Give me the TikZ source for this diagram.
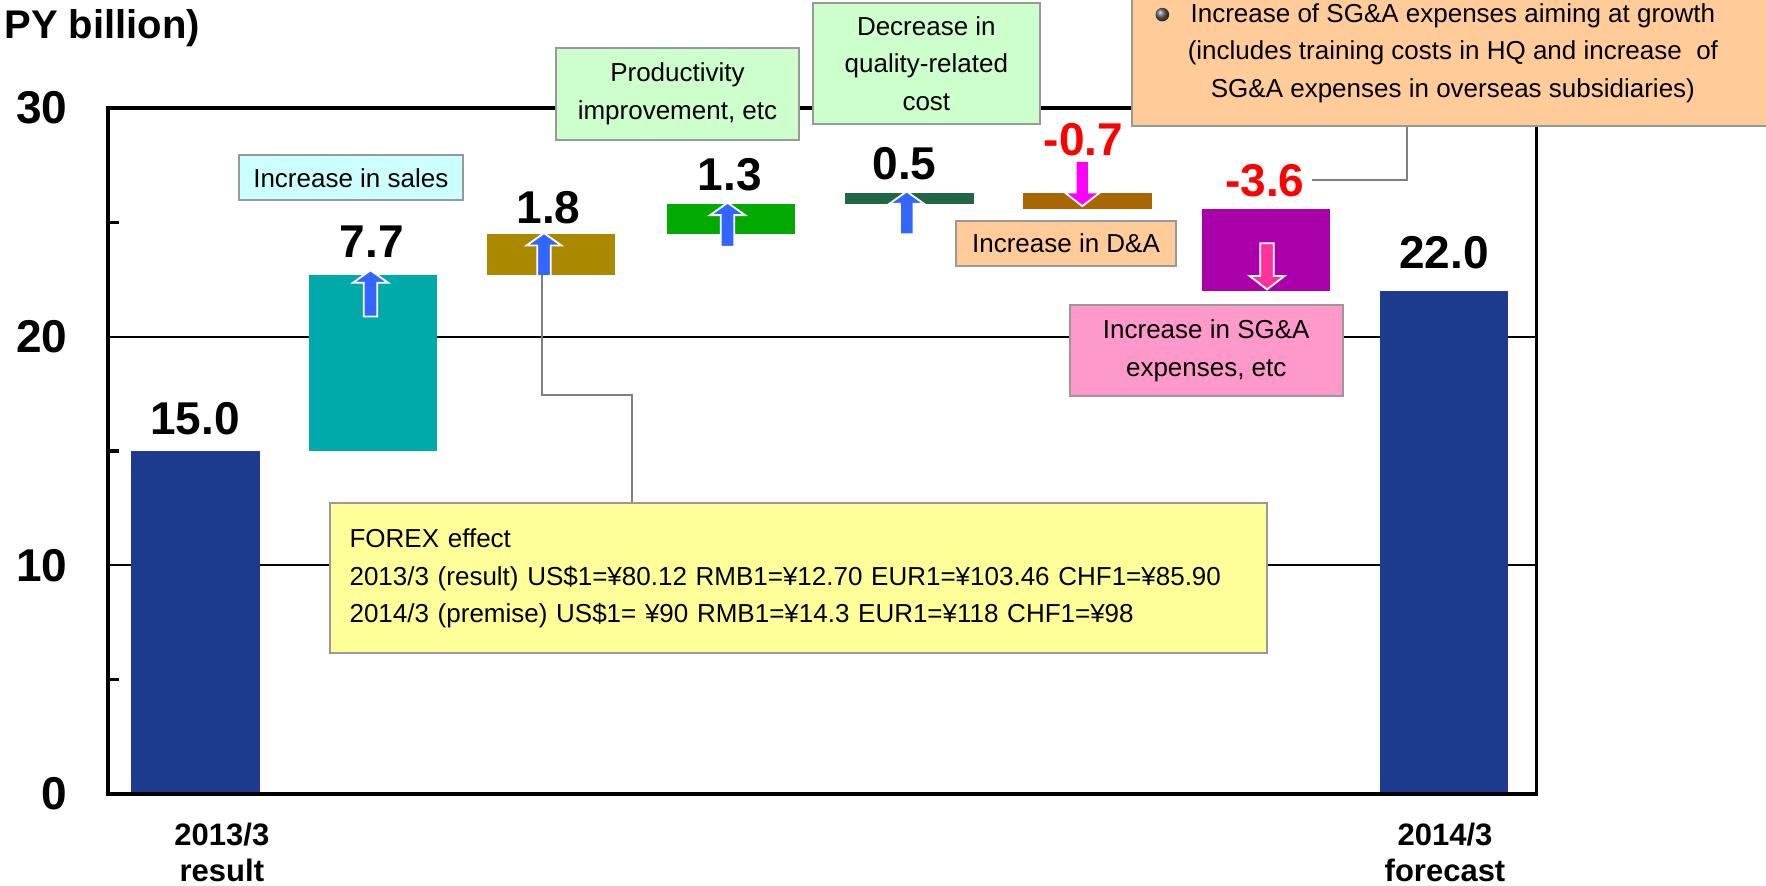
\documentclass[tikz,border=0pt]{standalone}
\usepackage{fontspec}
\setmainfont{Liberation Sans}
\definecolor{barnavy}{HTML}{1C3A8E}
\definecolor{barteal}{HTML}{00AAAA}
\definecolor{barolive}{HTML}{AA8800}
\definecolor{bargreen}{HTML}{00AA00}
\definecolor{barpine}{HTML}{216645}
\definecolor{barbrown}{HTML}{AA6600}
\definecolor{barpurple}{HTML}{AA00AA}
\definecolor{arrowblue}{HTML}{3366FF}
\definecolor{arrowmagenta}{HTML}{FF00FF}
\definecolor{arrowpink}{HTML}{FF3399}
\definecolor{valuered}{HTML}{FF0000}
\definecolor{calloutgray}{HTML}{999999}
\definecolor{linkgray}{HTML}{808080}
\definecolor{fillcyan}{HTML}{CCFFFF}
\definecolor{fillmint}{HTML}{CCFFCC}
\definecolor{fillpeach}{HTML}{FFCC99}
\definecolor{fillpink}{HTML}{FF99CC}
\definecolor{fillyellow}{HTML}{FFFF99}
\newlength\pxu
\setlength\pxu{0.5632pt}
\tikzset{
    plotframe/.style={
        draw=black,
        line width=1.65pt
    },
    gridline/.style={
        draw=black,
        line width=0.9pt
    },
    bar/.style={
        draw=none,
        inner sep=0pt,
        outer sep=0pt,
        minimum width=114\pxu
    },
    blockarrow/.style={
        draw=white,
        line width=0.9pt,
        line join=miter
    },
    valuelabel/.style={
        font=\bfseries\fontsize{23}{27}\selectfont
    },
    axislabel/.style={
        inner sep=0pt,
        font=\bfseries\fontsize{23}{27}\selectfont
    },
    catlabel/.style={
        align=center,
        inner sep=0pt,
        font=\bfseries\fontsize{15.5}{18}\selectfont
    },
    unitlabel/.style={
        inner sep=0pt,
        font=\bfseries\fontsize{20}{22}\selectfont
    },
    callout/.style={
        draw=calloutgray,
        line width=1pt,
        inner sep=0pt,
        align=center,
        font=\fontsize{13}{18.8}\selectfont
    },
    linkline/.style={
        draw=linkgray,
        line width=0.9pt
    }
}

\begin{document}
\begin{tikzpicture}[x=0.5632pt,y=-0.5632pt]
        \useasboundingbox (0,0) rectangle (1568,786);

        \foreach \v in {10,20}
            \draw[gridline] (96,{705-20.3*\v}) -- (1364,{705-20.3*\v});

        \node[bar,fill=barnavy,minimum height=304.5\pxu] (barstart) at (173.5,552.75) {};
        \node[bar,fill=barteal,minimum height=156.3\pxu] (barsales) at (331,322.35) {};
        \node[bar,fill=barolive,minimum height=36.5\pxu] (barforex) at (489,225.9) {};
        \node[bar,fill=bargreen,minimum height=26.4\pxu] (barprod) at (649,194.5) {};
        \node[bar,fill=barpine,minimum height=10.2\pxu] (barquality) at (807.5,176.2) {};
        \node[bar,fill=barbrown,minimum height=14.2\pxu] (bardepr) at (965.5,178.2) {};
        \node[bar,fill=barpurple,minimum height=73.1\pxu] (barsga) at (1124,221.85) {};
        \node[bar,fill=barnavy,minimum height=446.6\pxu] (barfinal) at (1282,481.7) {};

        \foreach \ax/\atail/\abase/\atip/\acol in {
            329/281/251/240/arrowblue, 483/245/218/207/arrowblue,
            646/219/191/180/arrowblue, 805/208/181/170/arrowblue,
            961/143/171/183/arrowmagenta, 1125/216/245/257/arrowpink}
            \filldraw[blockarrow,fill=\acol] (\ax-6,\atail) -- (\ax-6,\abase)
                -- (\ax-15.5,\abase) -- (\ax,\atip) -- (\ax+15.5,\abase)
                -- (\ax+6,\abase) -- (\ax+6,\atail) -- cycle;

        \draw[plotframe] (96,96) rectangle (1364,705);
        \foreach \v in {5,15,25}
            \draw[plotframe] (96,{705-20.3*\v}) -- ++(10,0);
        \foreach \v in {0,10,20,30}
            \node[axislabel,anchor=east] (ylab\v) at (60,{705-20.3*\v}) {\v};

        \node[unitlabel,anchor=east] (unit) at (178,25) {PY billion)};

        \node[callout,fill=fillcyan,minimum width=199\pxu,minimum height=40\pxu] (sales)
            at (311.5,158) {Increase in sales};
        \node[callout,fill=fillmint,minimum width=215\pxu,minimum height=81\pxu] (productivity)
            at (601.5,83.5) {Productivity\\improvement, etc};
        \node[callout,fill=fillmint,minimum width=201\pxu,minimum height=107\pxu] (quality)
            at (822.5,56.5) {Decrease in\\quality-related\\cost};
        \node[callout,fill=fillpeach,minimum width=195\pxu,minimum height=40\pxu] (depreciation)
            at (946.5,216) {Increase in D\&A};
        \node[callout,fill=fillpink,minimum width=242\pxu,minimum height=81\pxu] (sgaexp)
            at (1071,311.5) {Increase in SG\&A\\expenses, etc};
        \node[callout,fill=fillpeach,minimum width=570\pxu,minimum height=129\pxu] (growth)
            at (1290,47)
            {Increase of SG\&A expenses aiming at growth\\
             (includes training costs in HQ and increase\ \ of\\
             SG\&A expenses in overseas subsidiaries)};
        \shade[ball color=gray!75!black] (1032,13) circle[radius=3.4pt];
        \node[callout,fill=fillyellow,minimum width=832\pxu,minimum height=133\pxu,
              text width=449pt,align=left,inner xsep=9.5pt] (forex) at (709,513.5)
            {FOREX effect\\
             2013/3 (result) US\$1=¥80.12 RMB1=¥12.70 EUR1=¥103.46 CHF1=¥85.90\\
             2014/3 (premise) US\$1= ¥90 RMB1=¥14.3 EUR1=¥118 CHF1=¥98};

        \node[valuelabel] (vstart) at (173,372) {15.0};
        \node[valuelabel] (vsales) at (330,215) {7.7};
        \node[valuelabel] (vforex) at (487,184) {1.8};
        \node[valuelabel] (vprod) at (648,155) {1.3};
        \node[valuelabel] (vquality) at (803,145) {0.5};
        \node[valuelabel,text=valuered] (vdepr) at (962,124) {-0.7};
        \node[valuelabel,text=valuered] (vsga) at (1123,160) {-3.6};
        \node[valuelabel] (vfinal) at (1282,224) {22.0};

        \coordinate (fxbend) at (561,351);
        \coordinate (sgbend) at (1249,160);
        \draw[linkline] ([xshift=-4.5pt]barforex.south) |- (fxbend) -- (fxbend |- forex.north);
        \draw[linkline] (sgbend |- growth.south) -- (sgbend) -- (sgbend -| vsga.east);

        \node[catlabel] (catstart) at (197,757) {2013/3\\result};
        \node[catlabel] (catfinal) at (1283,757) {2014/3\\forecast};
    \end{tikzpicture}
\end{document}
